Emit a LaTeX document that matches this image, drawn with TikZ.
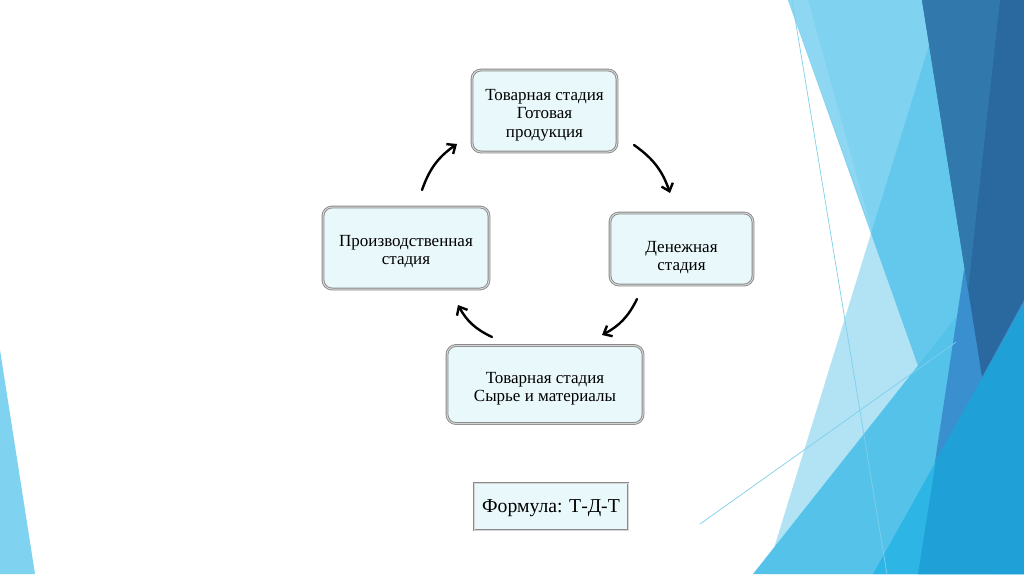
\documentclass[tikz,border=0pt]{standalone}
\usepackage{fontspec}
\setmainfont{Liberation Serif}
\usetikzlibrary{arrows.meta}
\definecolor{lband}{HTML}{7FD2F0}
\definecolor{lband2}{HTML}{8DD7F2}
\definecolor{mtint}{HTML}{3DB9E8}
\definecolor{med2}{HTML}{55C2EA}
\definecolor{navy}{HTML}{2A69A0}
\definecolor{navy2}{HTML}{3179AD}
\definecolor{midblue}{HTML}{3A8FCE}
\definecolor{bright}{HTML}{2DB5E5}
\definecolor{bright2}{HTML}{1FA1D8}
\definecolor{thinl}{HTML}{7FCFEA}
\definecolor{boxgray}{HTML}{8A8A8A}
\definecolor{boxlight}{HTML}{D6D6D6}
\definecolor{boxfill}{HTML}{E9F8FB}
\newcommand{\btext}[2]{\raisebox{#1}[0pt][0pt]{\begin{tabular}{@{}c@{}}#2\end{tabular}}}
\tikzset{
  stage/.style={rounded corners=9pt, draw=boxgray, line width=0.9pt, double=boxlight, double distance=1pt,
    fill=boxfill, align=center, font=\fontsize{17}{18.5}\selectfont, inner sep=0pt},
  formulabox/.style={draw=boxgray, line width=0.9pt, double=boxlight, double distance=1pt, fill=boxfill,
    font=\fontsize{19.7}{24}\selectfont, inner sep=0pt},
  cyc/.style={line width=2.4pt, line cap=round, -{Straight Barb[length=7pt,width=12pt,line width=2.4pt]}},
  thin/.style={draw=thinl, line width=0.7pt}
}
\begin{document}
\begin{tikzpicture}[x=1pt,y=-1pt]
\useasboundingbox (0,0) rectangle (1024,574);
\fill[white] (0,0) rectangle (1024,574);
% background facets
\fill[lband] (0,350) -- (35,574) -- (0,574) -- cycle;
\fill[lband] (788,0) -- (1024,0) -- (1024,574) -- (992,574) -- cycle;
\fill[lband2] (788,0) -- (808,0) -- (873,235) -- cycle;
\fill[mtint, opacity=0.4] (943,0) -- (1024,0) -- (1024,574) -- (766,574) -- cycle;
\fill[med2] (753,574) -- (962,310) -- (1024,310) -- (1024,574) -- cycle;
\fill[midblue] (964,270) -- (1024,270) -- (1024,574) -- (918,574) -- cycle;
\fill[navy] (922,0) -- (1024,0) -- (1024,300) -- (982,377) -- cycle;
\fill[navy2] (922,0) -- (1000,0) -- (968,290) -- cycle;
\fill[bright] (1024,304) -- (1024,574) -- (873,574) -- cycle;
\fill[bright2] (936,460) -- (1024,304) -- (1024,574) -- (918,574) -- cycle;
\coordinate (t1a) at (792,0); \coordinate (t1b) at (887,574);
\coordinate (t2a) at (700,524); \coordinate (t2b) at (956,342);
\draw[thin] (t1a) -- (t1b);
\draw[thin] (t2a) -- (t2b);
% stages
\node[stage, minimum width=145pt, minimum height=82pt] (top) at (544.5,111)
  {\btext{-8.5pt}{Товарная стадия\\Готовая\\продукция}};
\node[stage, minimum width=166pt, minimum height=82pt] (left) at (406,248)
  {\btext{-8pt}{Производственная\\стадия}};
\node[stage, minimum width=143pt, minimum height=72pt] (right) at (681.5,249)
  {\btext{-13pt}{Денежная\\стадия}};
\node[stage, minimum width=196pt, minimum height=78pt] (bottom) at (545,384.5)
  {\btext{-8.5pt}{Товарная стадия\\Сырье и материалы}};
\node[formulabox, minimum width=154pt, minimum height=47pt] (formula) at (551,506.5)
  {\raisebox{-6pt}[0pt][0pt]{Формула: Т-Д-Т}};
% cycle arrows
\coordinate (a1s) at (422,190); \coordinate (a1e) at (457,144);
\coordinate (a2s) at (634,145); \coordinate (a2e) at (670,193);
\coordinate (a3s) at (637,299); \coordinate (a3e) at (602,335);
\coordinate (a4s) at (492,337); \coordinate (a4e) at (458,305);
\draw[cyc] (a1s) to[bend left=18] (a1e);
\draw[cyc] (a2s) to[bend left=18] (a2e);
\draw[cyc] (a3s) to[bend left=18] (a3e);
\draw[cyc] (a4s) to[bend left=18] (a4e);
\end{tikzpicture}
\end{document}
